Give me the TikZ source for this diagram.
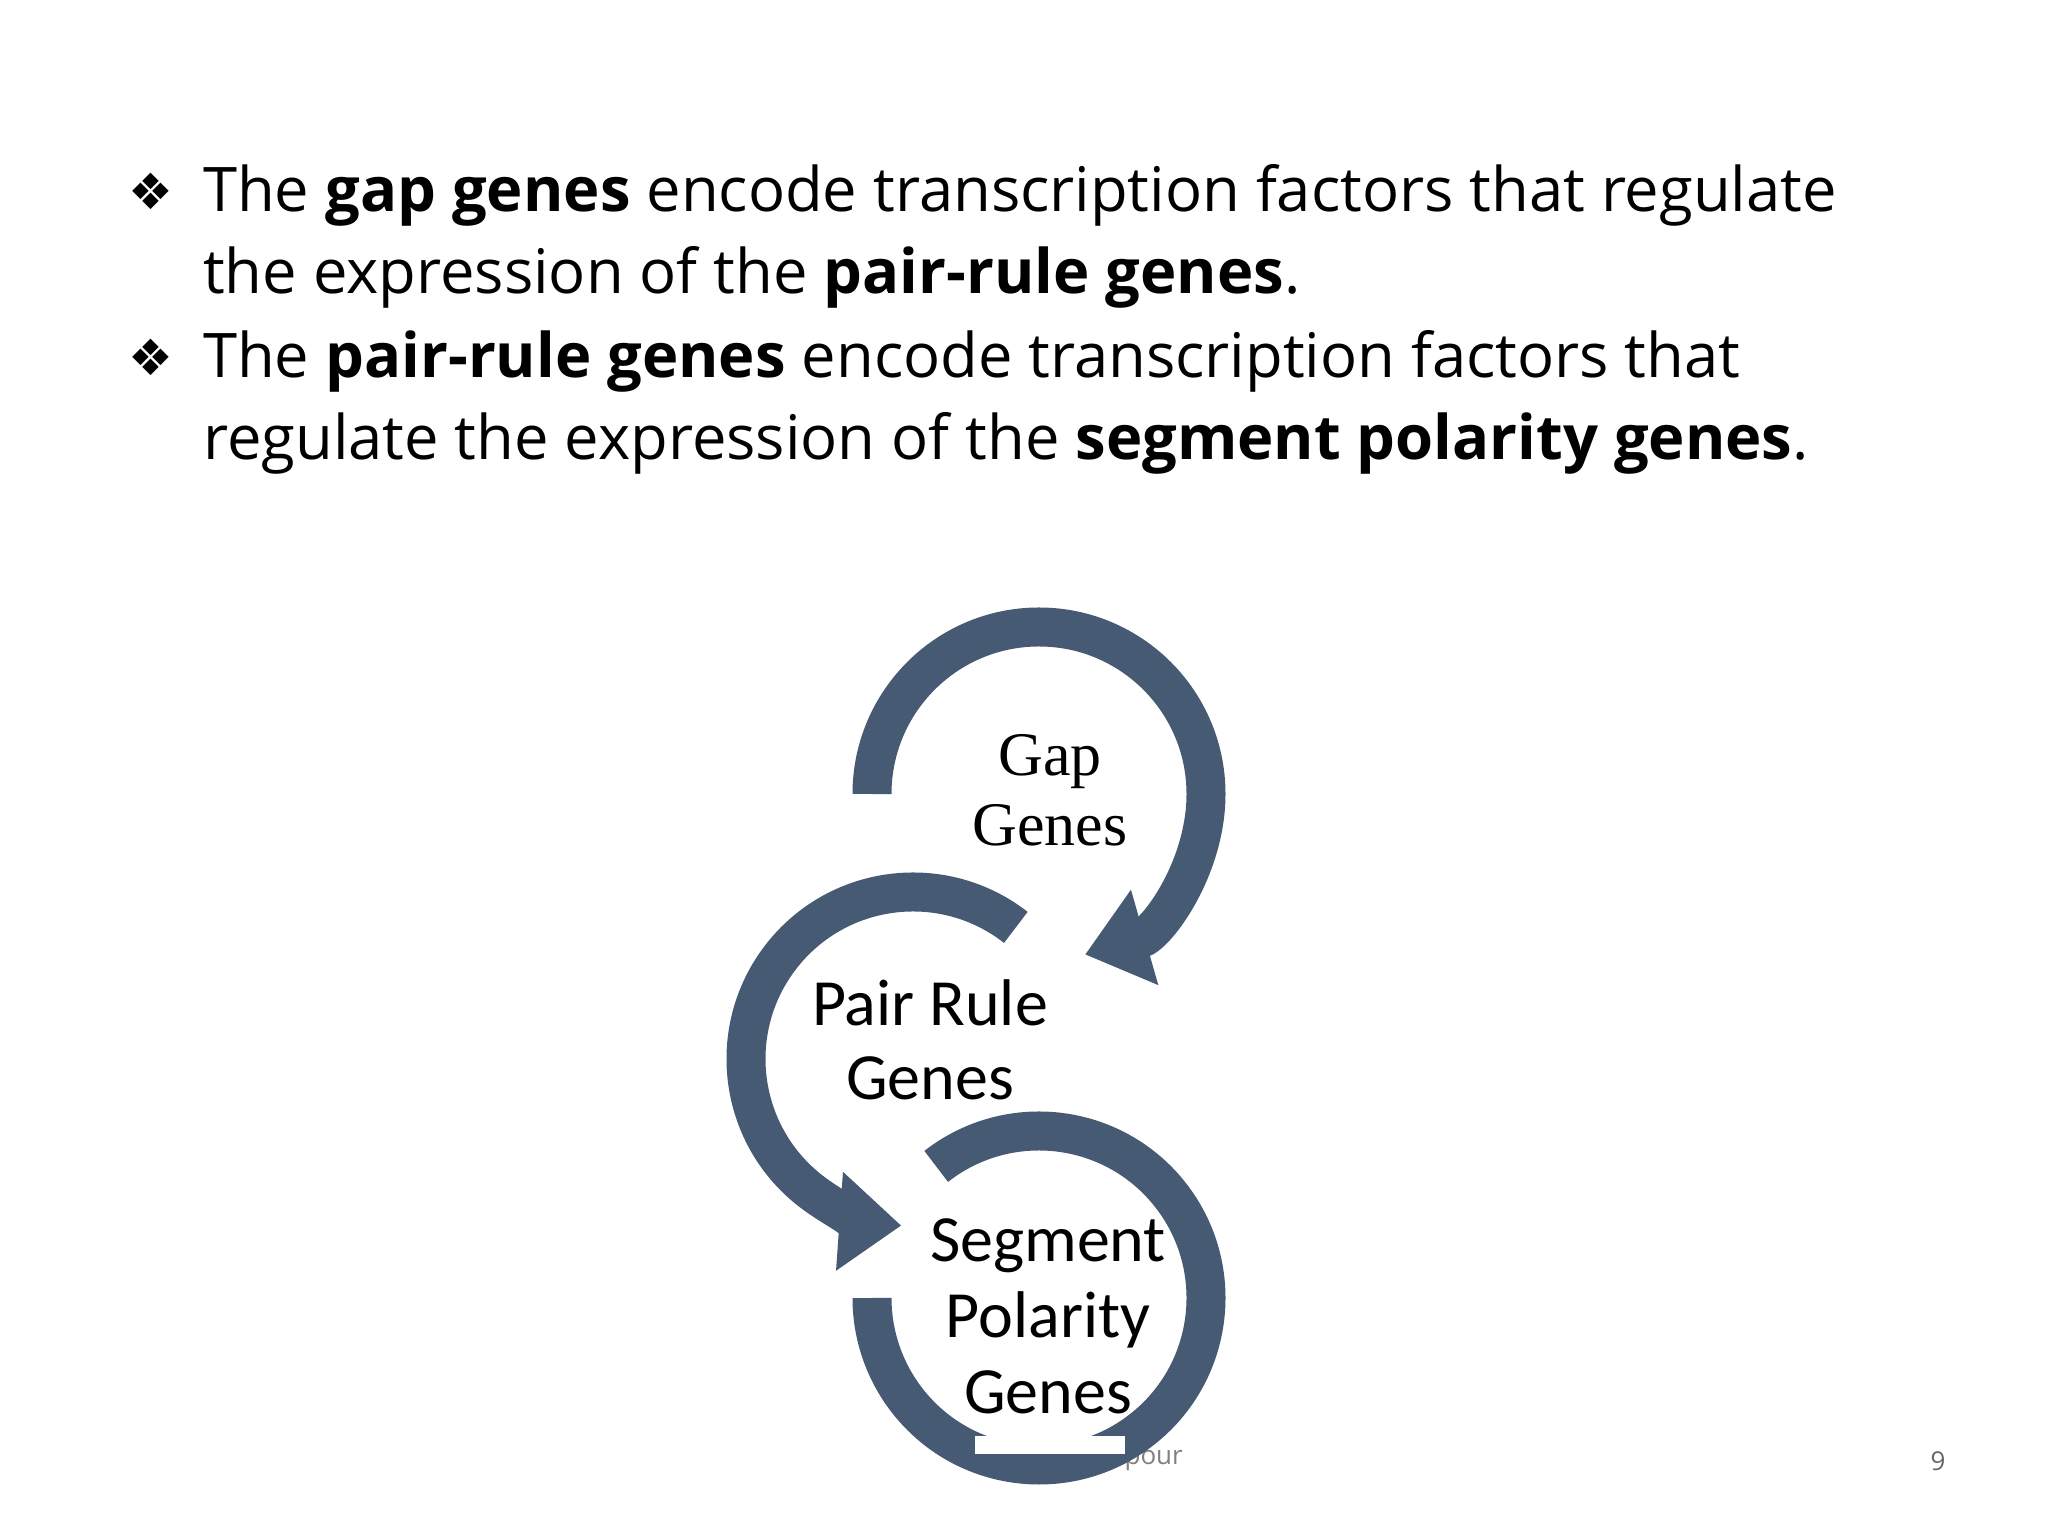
\documentclass[tikz,border=0pt]{standalone}
\usepackage{fontspec}
\setmainfont{Open Sans}
\newfontfamily\tmsfont{Liberation Serif}
\newfontfamily\carfont{Carlito}
\newfontfamily\djvfont{DejaVu Sans}
\usetikzlibrary{arrows.meta}
\definecolor{ring}{HTML}{475A74}
\tikzset{
 ringarc/.style={draw=ring,line width=39pt},
 ringarrow/.style={ringarc,-{Triangle[width=95pt,length=62pt]}},
 bl/.style={anchor=base west,inner sep=0pt,font=\fontsize{61.5}{66}\selectfont},
 lbl/.style={align=center,inner sep=0pt},
}
\begin{document}
\begin{tikzpicture}[x=1pt,y=1pt]
\useasboundingbox[fill=white] (0,0) rectangle (2048,1536);
% bullets
\node[bl,font=\fontsize{50}{60}\selectfont] (b1) at (128,1326) {\djvfont ❖};
\node[bl] (t1) at (203,1324) {The \textbf{gap genes} encode transcription factors that regulate};
\node[bl] (t2) at (203,1242) {the expression of the \textbf{pair-rule genes}.};
\node[bl,font=\fontsize{50}{60}\selectfont] (b2) at (128,1160) {\djvfont ❖};
\node[bl] (t3) at (203,1158) {The \textbf{pair-rule genes} encode transcription factors that};
\node[bl] (t4) at (203,1076) {regulate the expression of the \textbf{segment polarity genes}.};
% footer
\node[inner sep=0pt,text=gray,font=\fontsize{26}{30}\selectfont] (ft) at (1074,78) {Raana Rahimpour};
\node[inner sep=0pt,text=gray!80!black,font=\fontsize{26}{30}\selectfont] (pg) at (1938,75) {9};
% rings
\coordinate (cg) at (1039,742);
\coordinate (cp) at (913,477);
\coordinate (cs) at (1039,238);
\draw[ringarrow] ([shift={(180:167)}]cg) arc[start angle=180,end angle=-74,radius=167];
\draw[ringarrow] ([shift={(52:167)}]cp) arc[start angle=52,end angle=266,radius=167];
\draw[ringarc] ([shift={(128:167)}]cs) arc[start angle=128,end angle=-180,radius=167];
\fill[white] (975,82) rectangle (1125,100);
% labels
\node[lbl,font=\tmsfont\fontsize{62}{70}\selectfont] (gap) at (1050,746) {Gap\\Genes};
\node[lbl,font=\carfont\fontsize{66}{74}\selectfont] (pair) at (930,496) {Pair Rule\\Genes};
\node[lbl,font=\carfont\fontsize{66}{76}\selectfont] (seg) at (1048,220) {Segment\\Polarity\\Genes};
\end{tikzpicture}
\end{document}
